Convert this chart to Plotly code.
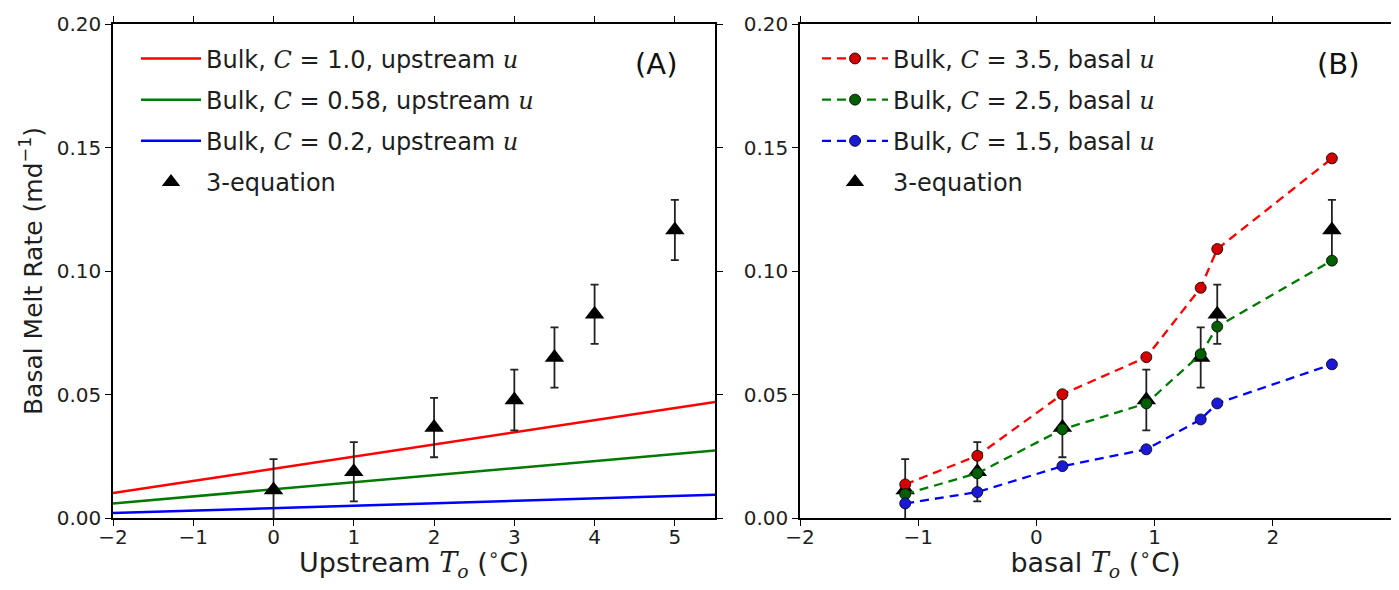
import plotly.graph_objects as go

# ---------------- data ----------------
# Panel A: bulk parameterisation with upstream velocity (straight lines)
T_up_line = [-2.0, 5.5]
bulk_up_C10 = [0.0101, 0.0470]
bulk_up_C058 = [0.0059, 0.0273]
bulk_up_C02 = [0.0020, 0.0094]

# 3-equation results (same melt values, plotted vs upstream and basal T)
T_up_3eq = [0.0, 1.0, 2.0, 3.0, 3.5, 4.0, 5.0]
T_basal = [-1.11, -0.50, 0.22, 0.93, 1.39, 1.53, 2.50]
melt_3eq = [0.0113, 0.0187, 0.0366, 0.0478, 0.0650, 0.0825, 0.1166]
err_3eq = [0.0125, 0.0120, 0.0120, 0.0123, 0.0122, 0.0120, 0.0122]

# Panel B: bulk parameterisation with basal velocity
bulk_basal_C35 = [0.0136, 0.0252, 0.0501, 0.0651, 0.0932, 0.1089, 0.1456]
bulk_basal_C25 = [0.0097, 0.0181, 0.0359, 0.0464, 0.0663, 0.0775, 0.1042]
bulk_basal_C15 = [0.0059, 0.0105, 0.0210, 0.0278, 0.0399, 0.0464, 0.0622]

y_ticks = [0.00, 0.05, 0.10, 0.15, 0.20]
xA_ticks = [-2, -1, 0, 1, 2, 3, 4, 5]
xB_ticks = [-2, -1, 0, 1, 2, 3]

RED, GREEN, BLUE = "#ff0000", "#007a00", "#0000ff"
MRED, MGREEN, MBLUE = "#d40000", "#005f00", "#1a1ad6"
FONT = "DejaVu Sans"
TXT = "#1e1e1e"


def mi(s):
    return "<span style=\"font-family:'DejaVu Serif'\"><i>" + s + "</i></span>"


fig = go.Figure()

# ---- Panel A ----
for vals, col, c in [(bulk_up_C10, RED, "1.0"), (bulk_up_C058, GREEN, "0.58"), (bulk_up_C02, BLUE, "0.2")]:
    fig.add_trace(go.Scatter(
        x=T_up_line, y=vals, mode="lines", line=dict(color=col, width=2.5),
        name="Bulk, " + mi("C") + " = " + c + ", upstream " + mi("u"),
        legend="legend", legendgroup="A" + c, xaxis="x", yaxis="y"))

fig.add_trace(go.Scatter(
    x=T_up_3eq, y=melt_3eq, mode="markers",
    marker=dict(symbol="triangle-up", size=17, color="black"),
    error_y=dict(type="data", array=err_3eq, color="#222222", thickness=1.8, width=4),
    name="3-equation", legend="legend", legendgroup="A3", xaxis="x", yaxis="y"))

# ---- Panel B ----
fig.add_trace(go.Scatter(
    x=T_basal, y=melt_3eq, mode="markers",
    marker=dict(symbol="triangle-up", size=17, color="black"),
    error_y=dict(type="data", array=err_3eq, color="#222222", thickness=1.8, width=4),
    name="3-equation", legend="legend2", legendgroup="B3", legendrank=1004,
    xaxis="x2", yaxis="y2"))

for i, (vals, col, mcol, c) in enumerate([(bulk_basal_C35, RED, MRED, "3.5"),
                                          (bulk_basal_C25, GREEN, MGREEN, "2.5"),
                                          (bulk_basal_C15, BLUE, MBLUE, "1.5")]):
    fig.add_trace(go.Scatter(
        x=T_basal, y=vals, mode="lines+markers",
        line=dict(color=col, width=2.3, dash="9px,6px"),
        marker=dict(symbol="circle", size=11, color=mcol, line=dict(color="black", width=0.8)),
        name="Bulk, " + mi("C") + " = " + c + ", basal " + mi("u"),
        legend="legend2", legendgroup="B" + c, legendrank=1000 + i,
        xaxis="x2", yaxis="y2"))

axis_common = dict(
    showline=True, linecolor="black", linewidth=1.5, mirror="allticks",
    ticks="outside", ticklen=6, tickwidth=1.2, tickcolor="black",
    showgrid=False, zeroline=False, automargin=False,
    tickfont=dict(family=FONT, size=20, color=TXT),
)

# page has an 8px body margin, so the figure is sized/offset to compensate
W, H = 1383, 574
fig.update_layout(
    width=W, height=H,
    margin=dict(l=0, r=0, t=16, b=64),
    paper_bgcolor="white", plot_bgcolor="white",
    font=dict(family=FONT, color=TXT),
    showlegend=True,
    xaxis=dict(domain=[105 / W, 707 / W], range=[-2, 5.5], tickvals=xA_ticks,
               ticklabelstandoff=-6,
               title=dict(text="Upstream " + mi("T<sub>o</sub>") + " (<sup>∘</sup>C)",
                          font=dict(family=FONT, size=27, color=TXT), standoff=4),
               anchor="y", **axis_common),
    yaxis=dict(domain=[0, 1], range=[0, 0.2], tickvals=y_ticks, tickformat=".2f",
               title=dict(text="Basal Melt Rate (md<sup>−1</sup>)",
                          font=dict(family=FONT, size=25, color=TXT), standoff=7),
               anchor="x", **axis_common),
    xaxis2=dict(domain=[792 / W, 1.0], range=[-2, 3], tickvals=xB_ticks,
                ticklabelstandoff=-6,
                title=dict(text="basal " + mi("T<sub>o</sub>") + " (<sup>∘</sup>C)",
                           font=dict(family=FONT, size=27, color=TXT), standoff=4),
                anchor="y2", **axis_common),
    yaxis2=dict(domain=[0, 1], range=[0, 0.2], tickvals=y_ticks, tickformat=".2f",
                anchor="x2", **axis_common),
    legend=dict(x=128 / W, y=0.975, xanchor="left", yanchor="top",
                bgcolor="rgba(255,255,255,0)", borderwidth=0,
                font=dict(family=FONT, size=24, color=TXT),
                tracegroupgap=7, itemwidth=60),
    legend2=dict(x=809 / W, y=0.975, xanchor="left", yanchor="top",
                 bgcolor="rgba(255,255,255,0)", borderwidth=0,
                 font=dict(family=FONT, size=24, color=TXT),
                 tracegroupgap=7, itemwidth=66),
    annotations=[
        dict(text="(A)", x=4.76, y=0.184, xref="x", yref="y", showarrow=False,
             font=dict(family=FONT, size=29, color="#111111")),
        dict(text="(B)", x=2.56, y=0.184, xref="x2", yref="y2", showarrow=False,
             font=dict(family=FONT, size=29, color="#111111")),
    ],
)

fig.write_html("out.html")
